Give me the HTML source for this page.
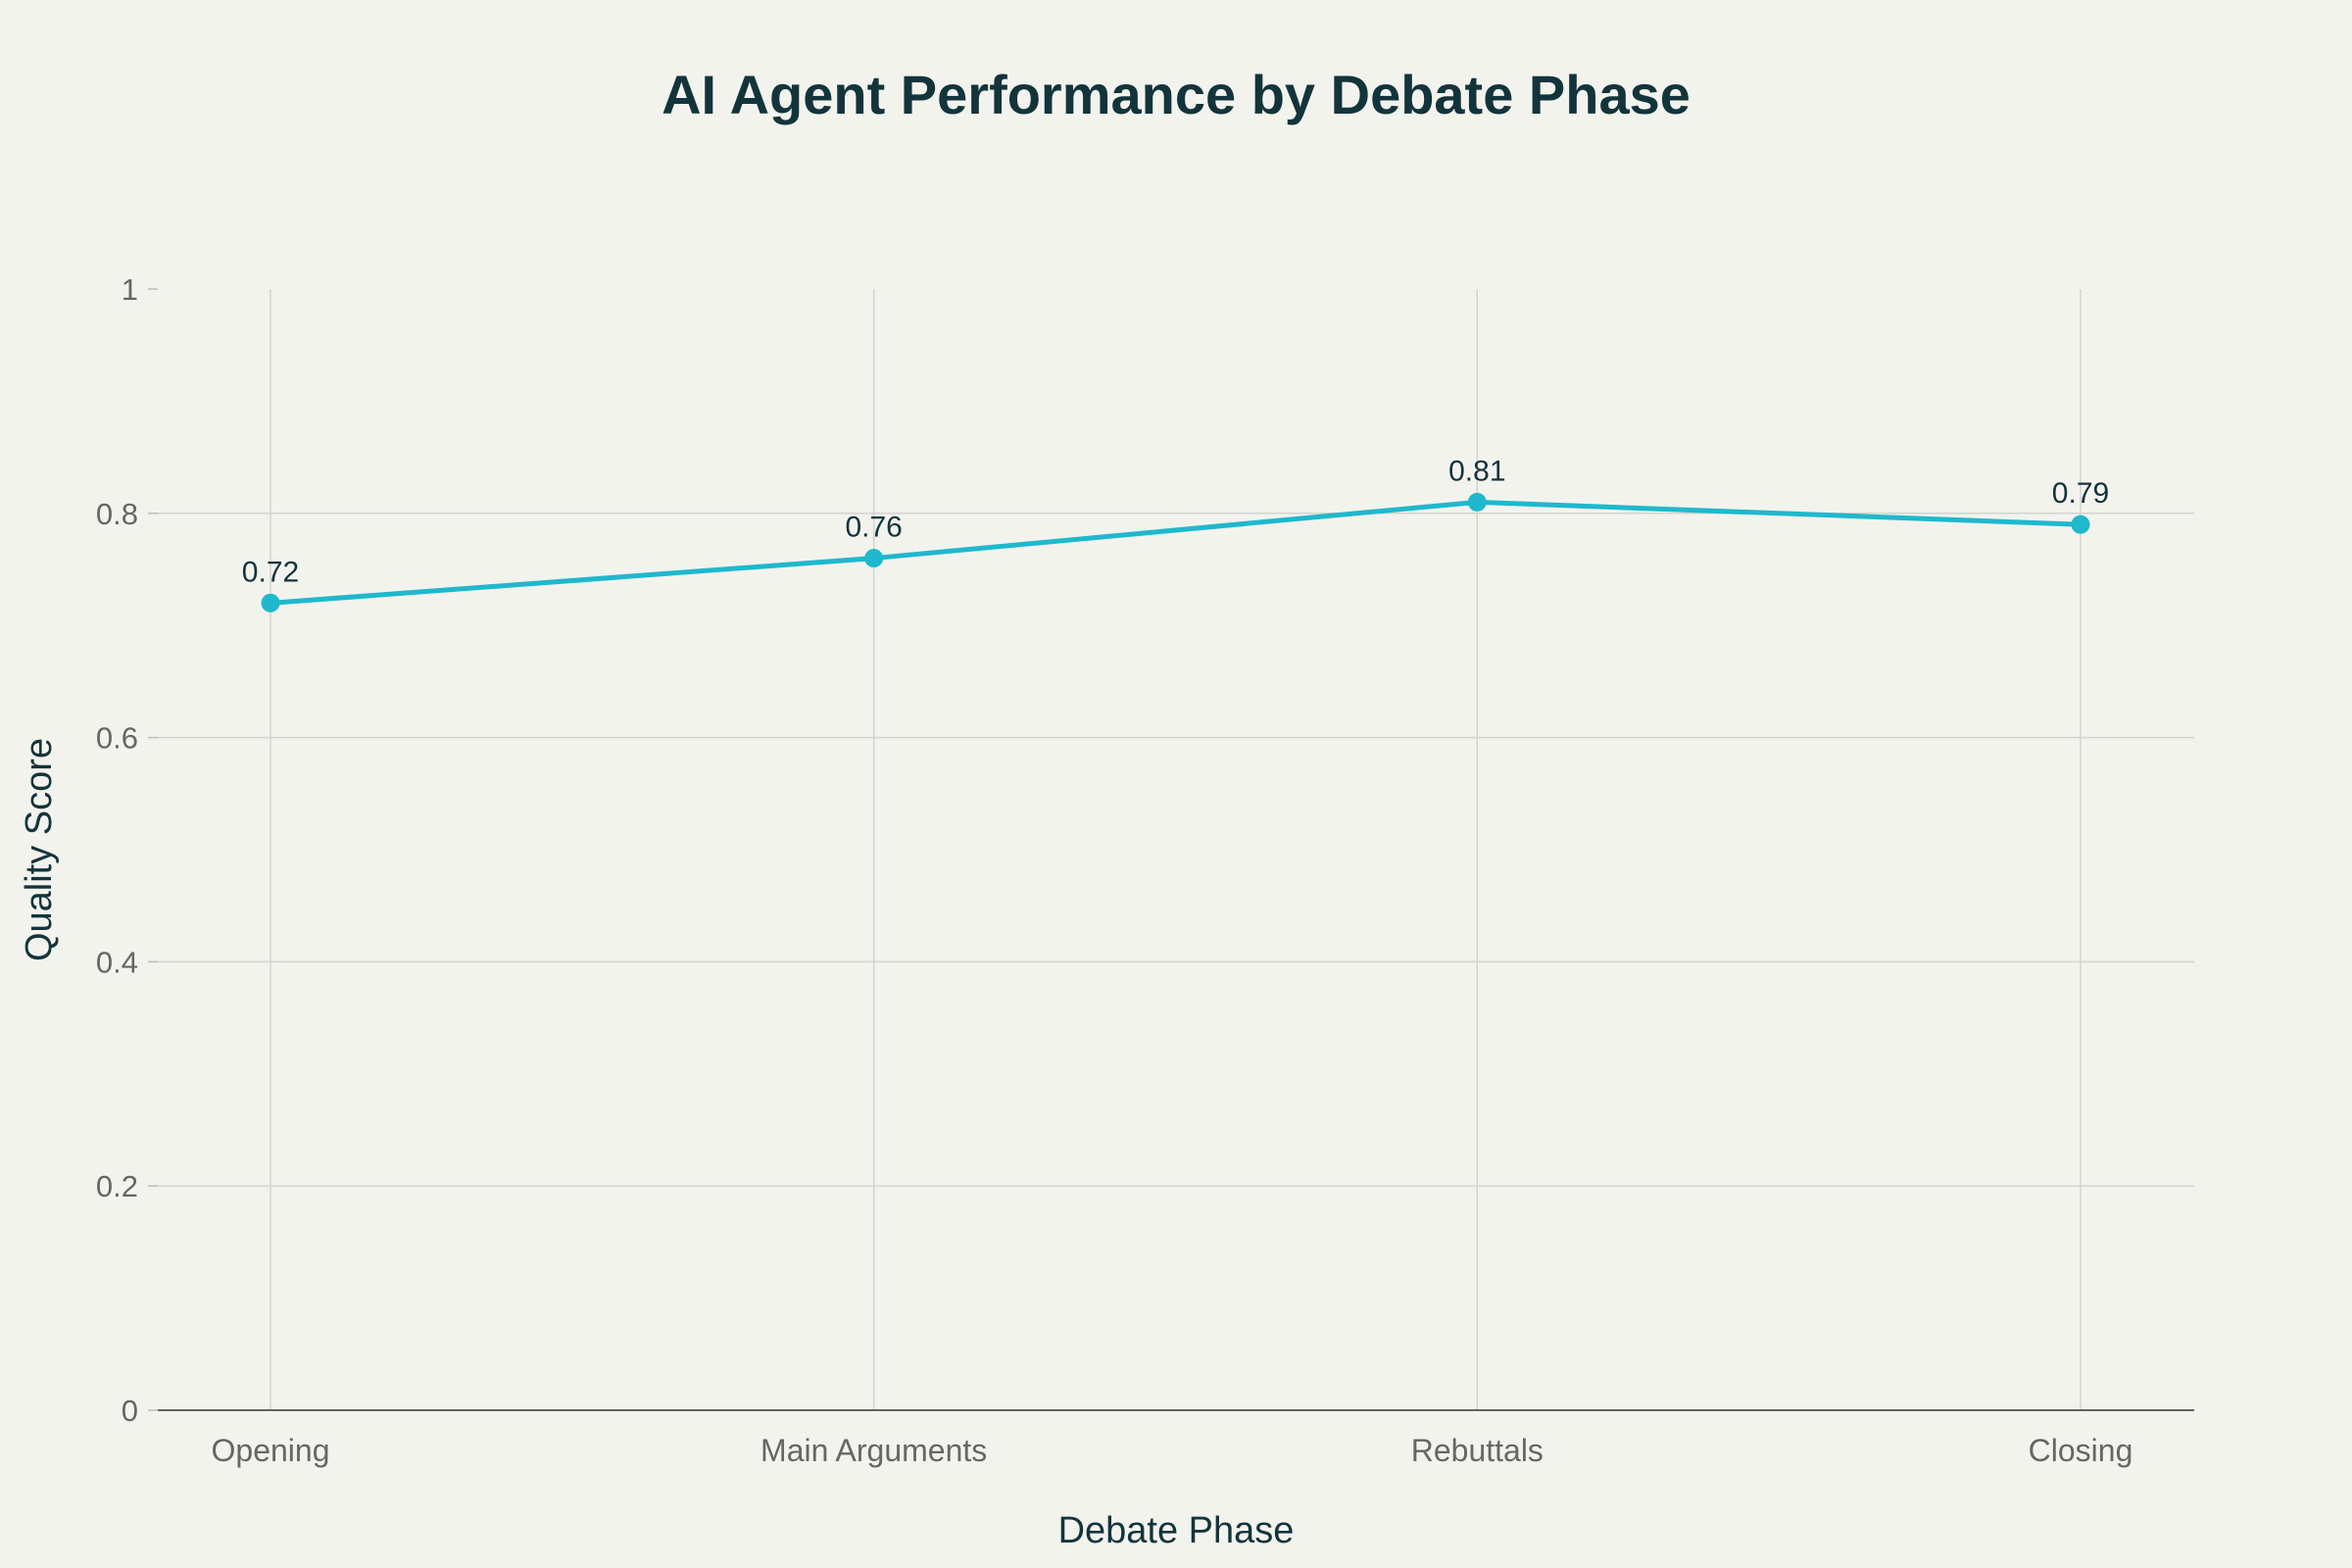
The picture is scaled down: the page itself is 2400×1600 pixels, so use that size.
<!DOCTYPE html>
<html><head><meta charset="utf-8"><style>
html,body{margin:0;padding:0;background:#f3f3ee;}
svg{display:block;font-family:"Liberation Sans",sans-serif;}
</style></head><body>
<svg id="chart" width="2400" height="1600" viewBox="0 0 2400 1600">
<rect width="2400" height="1600" fill="#f3f3ee"/>
<text x="1200" y="116" text-anchor="middle" font-size="56" font-weight="bold" fill="#13343b">AI Agent Performance by Debate Phase</text>
<g id="grid"></g><g id="axes"></g><g id="series"></g>
<text x="1200" y="1574" text-anchor="middle" font-size="38" fill="#13343b">Debate Phase</text>
<text transform="translate(52,867) rotate(-90)" text-anchor="middle" font-size="38" fill="#13343b">Quality Score</text>
</svg>
<script>
const categories = ["Opening","Main Arguments","Rebuttals","Closing"];
const scores = [0.72,0.76,0.81,0.79];
const labels = ["0.72","0.76","0.81","0.79"];
const yTicks = [0,0.2,0.4,0.6,0.8,1];
const yTickLabels = ["0","0.2","0.4","0.6","0.8","1"];
const NS="http://www.w3.org/2000/svg";
const L=161,R=2239,T=295,B=1439;
function xs(i){return 276+i*(2123-276)/(categories.length-1);}
function ys(v){return B-(v-0)/(1-0)*(B-T);}
function mk(tag,attrs,parent){const e=document.createElementNS(NS,tag);for(const k in attrs)e.setAttribute(k,attrs[k]);parent.appendChild(e);return e;}
const grid=document.getElementById('grid'),axes=document.getElementById('axes'),series=document.getElementById('series');
yTicks.forEach((t,i)=>{
  if(t>0&&t<1){const g=mk('line',{x1:L,x2:R,y1:ys(t),y2:ys(t),stroke:'#d3d3cf','stroke-width':1.5},grid);
  
  }
  const tk=mk('line',{x1:L-10,x2:L,y1:ys(t),y2:ys(t),stroke:'#bbb','stroke-width':1.5},axes);
  
  
  const tx=mk('text',{x:L-20,y:ys(t)+11,'text-anchor':'end','font-size':31,fill:'#666'},axes);
  tx.textContent=yTickLabels[i];
  
  
});
categories.forEach((c,i)=>{
  const g=mk('line',{x1:xs(i),x2:xs(i),y1:T,y2:B,stroke:'#d3d3cf','stroke-width':1.5},grid);
  
  
  const tx=mk('text',{x:xs(i),y:1491,'text-anchor':'middle','font-size':32,fill:'#666'},axes);
  tx.textContent=c;
  
  
});
const ax=mk('line',{x1:L,x2:R,y1:B,y2:B,stroke:'#333','stroke-width':1.5},axes);


const pl=mk('polyline',{points:scores.map((v,i)=>xs(i)+','+ys(v)).join(' '),fill:'none',stroke:'#1fb8cd','stroke-width':5},series);


scores.forEach((v,i)=>{
  const c=mk('circle',{cx:xs(i),cy:ys(v),r:9.5,fill:'#1fb8cd'},series);
  
  
  const t=mk('text',{x:xs(i),y:ys(v)-22,'text-anchor':'middle','font-size':30,fill:'#13343b'},series);
  t.textContent=labels[i];
  
  
});
</script>
</body></html>
